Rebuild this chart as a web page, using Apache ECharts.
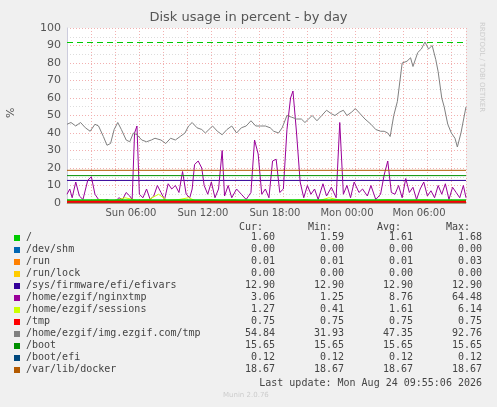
<!DOCTYPE html>
<html><head><meta charset="utf-8">
<script src="https://cdn.jsdelivr.net/npm/echarts@6/dist/echarts.min.js"></script>
<style>html,body{margin:0;background:#f0f0f0}#c{width:497px;height:407px}</style>
</head><body><div id="c"></div>
<script>
var xTicks=[6,12,18,24,30];
var xTickLabels=['Sun 06:00','Sun 12:00','Sun 18:00','Mon 00:00','Mon 06:00'];
var imgTmp=[[0.67,45],[1,46],[1.4,44],[1.8,46],[2.2,43],[2.6,41],[3,45],[3.3,44],[3.7,38],[4,33],[4.3,34],[4.6,42],[4.9,46],[5.2,42],[5.6,36],[5.9,35],[6.2,40],[6.5,39],[6.9,36],[7.3,35],[7.7,36],[8,37],[8.5,36],[8.9,34],[9.3,37],[9.7,36],[10.1,38],[10.5,40],[10.8,44],[11.1,46],[11.5,43],[11.9,42],[12.2,40],[12.5,42],[12.8,44],[13.2,41],[13.6,39],[14,42],[14.4,44],[14.8,40],[15.2,43],[15.6,44],[16,47],[16.4,44],[16.8,44],[17.2,44],[17.6,43],[17.9,41],[18.3,40],[18.6,43],[19,50],[19.4,49],[19.8,48],[20.2,48],[20.5,46],[20.8,48],[21.1,50],[21.5,47],[21.9,50],[22.3,53],[22.7,51],[23,50],[23.4,52],[23.7,53],[24,50],[24.4,52],[24.7,54],[25.1,51],[25.5,48],[26,45],[26.4,42],[26.8,41],[27.1,41],[27.4,40],[27.6,38],[27.9,50],[28.2,58],[28.6,80],[29,81],[29.3,83],[29.5,78],[29.9,86],[30.2,88],[30.5,92],[30.8,88],[31.1,90],[31.4,82],[31.6,75],[31.9,60],[32.1,55],[32.4,45],[32.7,40],[33,37],[33.2,32],[33.5,40],[33.92,55]];
var nginxtmp=[[0.67,5],[0.9,8],[1.1,3],[1.4,12],[1.7,4],[2,2],[2.4,13],[2.7,15],[3,5],[3.3,2],[3.6,1],[4,2],[4.3,1],[4.7,1],[5,3],[5.3,2],[5.6,6],[5.9,4],[6.1,2],[6.3,40],[6.5,44],[6.7,5],[7,3],[7.3,8],[7.6,2],[7.9,4],[8.2,10],[8.5,6],[8.8,2],[9.1,11],[9.4,8],[9.7,10],[10,6],[10.3,18],[10.6,5],[10.9,3],[11.1,8],[11.3,22],[11.6,24],[11.9,20],[12.1,10],[12.4,5],[12.7,12],[13,3],[13.3,8],[13.6,30],[13.8,4],[14.1,10],[14.4,3],[14.8,8],[15.2,5],[15.6,2],[16,6],[16.3,36],[16.6,28],[16.9,5],[17.2,8],[17.5,3],[17.8,24],[18.1,25],[18.4,6],[18.7,8],[19,42],[19.3,60],[19.5,64],[19.8,40],[20.1,12],[20.4,3],[20.7,10],[21,5],[21.3,8],[21.6,2],[22,11],[22.3,4],[22.7,9],[23.1,3],[23.4,46],[23.7,5],[24,10],[24.3,3],[24.6,12],[25,6],[25.3,8],[25.7,4],[26,10],[26.4,2],[26.8,5],[27.1,16],[27.4,24],[27.7,6],[28,5],[28.3,10],[28.6,3],[28.9,14],[29.2,6],[29.5,9],[29.8,2],[30.1,8],[30.4,12],[30.7,4],[31,7],[31.3,3],[31.6,10],[31.9,5],[32.2,11],[32.5,2],[32.8,9],[33.1,6],[33.4,3],[33.7,10],[33.92,3]];
var sessions=[[0.67,1.5],[2,1],[3.5,2],[4.5,1],[5.5,3],[6.5,1.5],[7.5,2],[8.3,5],[9,1.5],[10,2],[10.8,3],[11.5,1],[12.5,2],[13.5,1.5],[14.5,2],[15.5,1],[16.5,2],[17.5,1],[18.5,2],[19.5,1.5],[20.5,2],[21.5,1],[22.5,3],[23.5,1.5],[24.5,2],[25.5,1],[26.5,1.5],[27.5,2],[28.5,1],[29.5,1.5],[30.5,2],[31.5,1],[32.5,1.5],[33.92,1.3]];
var legendNames=['/','/dev/shm','/run','/run/lock','/sys/firmware/efi/efivars','/home/ezgif/nginxtmp','/home/ezgif/sessions','/tmp','/home/ezgif/img.ezgif.com/tmp','/boot','/boot/efi','/var/lib/docker'];
var legendColors=['#00cc00','#0066b3','#ff8000','#ffcc00','#330099','#990099','#ccff00','#ff0000','#808080','#008f00','#00487d','#b35a00'];
var cur=['1.60','0.00','0.01','0.00','12.90','3.06','1.27','0.75','54.84','15.65','0.12','18.67'];
var mins=['1.59','0.00','0.01','0.00','12.90','1.25','0.41','0.75','31.93','15.65','0.12','18.67'];
var avgs=['1.61','0.00','0.01','0.00','12.90','8.76','1.61','0.75','47.35','15.65','0.12','18.67'];
var maxs=['1.68','0.00','0.03','0.00','12.90','64.48','6.14','0.75','92.76','15.65','0.12','18.67'];
var constVals={'/':1.6,'/dev/shm':0,'/run':0.01,'/run/lock':0,'/sys/firmware/efi/efivars':12.9,'/tmp':0.75,'/boot':15.65,'/boot/efi':0.12,'/var/lib/docker':18.67};
var warnLevel=92;

var X0=0.67,X1=33.92;
var series=[];
legendNames.forEach(function(n,i){
  var d;
  if(n=='/home/ezgif/nginxtmp')d=nginxtmp;
  else if(n=='/home/ezgif/sessions')d=sessions;
  else if(n=='/home/ezgif/img.ezgif.com/tmp')d=imgTmp;
  else d=[[X0,constVals[n]],[X1,constVals[n]]];
  series.push({type:'line',name:n,data:d,showSymbol:false,animation:false,z:(n=='/tmp'||n=='/'?5:3),
    lineStyle:{color:legendColors[i],width:(n=='/tmp'||n=='/'?2:1)}});
});
series[0].markLine={symbol:'none',silent:true,label:{show:false},lineStyle:{color:'#00cc00',type:[6,4],width:1},data:[{yAxis:warnLevel}]};
var mono='DejaVu Sans Mono';
var g=[];
g.push({type:'text',left:'center',top:11,style:{text:'Disk usage in percent - by day',fill:'#555',font:'13px DejaVu Sans'}});
g.push({type:'text',x:6,y:118,rotation:Math.PI/2,style:{text:'%',fill:'#555',font:'11px DejaVu Sans'}});
g.push({type:'text',x:485,y:22,rotation:-Math.PI/2,style:{text:'RRDTOOL / TOBI OETIKER',fill:'#ccc',font:'7px DejaVu Sans'}});
[['Cur:',263],['Min:',332],['Avg:',401],['Max:',470]].forEach(function(h){g.push({type:'text',x:h[1],y:222,style:{text:h[0],fill:'#444',font:'10px '+mono,align:'right'}});});
legendNames.forEach(function(n,i){
  var y=234+i*12;
  g.push({type:'rect',shape:{x:14,y:y+1,width:6,height:6},style:{fill:legendColors[i]}});
  g.push({type:'text',x:26,y:y-2,style:{text:n,fill:'#444',font:'10px '+mono}});
  [[cur,275],[mins,344],[avgs,413],[maxs,482]].forEach(function(c){g.push({type:'text',x:c[1],y:y-2,style:{text:c[0][i],fill:'#444',font:'10px '+mono,align:'right'}});});
});
g.push({type:'text',x:482,y:378,style:{text:'Last update: Mon Aug 24 09:55:06 2026',fill:'#444',font:'10px '+mono,align:'right'}});
g.push({type:'text',x:223,y:392,style:{text:'Munin 2.0.76',fill:'#ccc',font:'7px DejaVu Sans'}});

var chart=echarts.init(document.getElementById('c'));
chart.setOption({
  backgroundColor:'#f0f0f0',animation:false,
  grid:{left:67,right:31,top:28,bottom:204,backgroundColor:'#fff',show:true,borderWidth:0},
  xAxis:{type:'value',min:X0,max:X1,interval:2,
    axisLine:{lineStyle:{color:'#ccd',width:1}},axisTick:{show:false},
    axisLabel:{customValues:xTicks,formatter:function(v){return xTickLabels[xTicks.indexOf(v)];},color:'#555',fontSize:10,fontFamily:'DejaVu Sans',margin:5},
    splitLine:{show:true,lineStyle:{color:'#f2b0b0',type:[1,2]}}},
  yAxis:{type:'value',min:0,max:100,interval:10,
    axisLine:{show:true,lineStyle:{color:'#ccd'}},axisTick:{show:false},
    axisLabel:{color:'#555',fontSize:11,fontFamily:'DejaVu Sans',margin:6},
    splitLine:{lineStyle:{color:'#f2b0b0',type:[1,2]}},
    minorTick:{show:false,splitNumber:2},minorSplitLine:{show:true,lineStyle:{color:'#ddd',type:[1,2]}}},
  series:series,
  graphic:g
});
</script></body></html>
